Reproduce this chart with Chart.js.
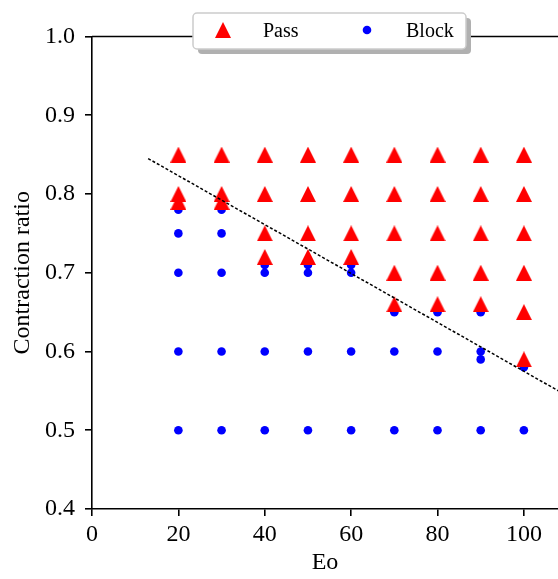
<!DOCTYPE html>
<html>
<head>
<meta charset="utf-8">
<script src="https://cdn.jsdelivr.net/npm/chart.js@4.4.0/dist/chart.umd.min.js"></script>
<style>
  html, body { margin: 0; padding: 0; background: #fff; }
</style>
</head>
<body>
<canvas id="chart" width="558" height="579"></canvas>
<script>
// data
const passX = [20, 20, 20, 30, 30, 30, 40, 40, 40, 40, 50, 50, 50, 50, 60, 60, 60, 60,
  70, 70, 70, 70, 70, 80, 80, 80, 80, 80, 90, 90, 90, 90, 90, 100, 100, 100, 100, 100, 100];
const passY = [0.85, 0.80, 0.79, 0.85, 0.80, 0.79, 0.85, 0.80, 0.75, 0.72, 0.85, 0.80, 0.75, 0.72,
  0.85, 0.80, 0.75, 0.72, 0.85, 0.80, 0.75, 0.70, 0.66, 0.85, 0.80, 0.75, 0.70, 0.66,
  0.85, 0.80, 0.75, 0.70, 0.66, 0.85, 0.80, 0.75, 0.70, 0.65, 0.59];

const blockX = [20, 20, 20, 20, 20, 30, 30, 30, 30, 30, 40, 40, 40, 40, 50, 50, 50, 50,
  60, 60, 60, 60, 70, 70, 70, 80, 80, 80, 90, 90, 90, 90, 100, 100];
const blockY = [0.78, 0.75, 0.70, 0.60, 0.50, 0.78, 0.75, 0.70, 0.60, 0.50, 0.71, 0.70, 0.60, 0.50,
  0.71, 0.70, 0.60, 0.50, 0.71, 0.70, 0.60, 0.50, 0.65, 0.60, 0.50, 0.65, 0.60, 0.50,
  0.65, 0.60, 0.59, 0.50, 0.58, 0.50];

const boundaryX = [13, 108];
const boundaryY = [0.845, 0.550];

const xTicks = [0, 20, 40, 60, 80, 100];
const yTicks = [0.4, 0.5, 0.6, 0.7, 0.8, 0.9, 1.0];

const FONT = "'Liberation Serif', 'DejaVu Serif', serif";
const RED = "#ff0000";
const BLUE = "#0000ff";

function toPoints(xs, ys) {
  return xs.map((x, i) => ({ x: x, y: ys[i] }));
}

// matplotlib-like "^" marker, centred on its bounding box
const tri = document.createElement("canvas");
tri.width = 16;
tri.height = 16;
const tctx = tri.getContext("2d");
tctx.fillStyle = RED;
tctx.beginPath();
tctx.moveTo(8, 0);
tctx.lineTo(16, 16);
tctx.lineTo(0, 16);
tctx.closePath();
tctx.fill();

// top spine + shadowed legend box
const frameAndLegend = {
  id: "frameAndLegend",
  afterDraw(chart) {
    const ctx = chart.ctx;
    const area = chart.chartArea;
    ctx.save();
    ctx.strokeStyle = "#000";
    ctx.lineWidth = 1.6;
    ctx.beginPath();
    ctx.moveTo(area.left, area.top);
    ctx.lineTo(area.right, area.top);
    ctx.stroke();

    const bx = 193, by = 13, bw = 273, bh = 36;
    ctx.fillStyle = "#b0b0b0";
    ctx.beginPath();
    ctx.roundRect(bx + 5, by + 5, bw, bh, 4);
    ctx.fill();
    ctx.fillStyle = "#fff";
    ctx.strokeStyle = "#cccccc";
    ctx.lineWidth = 1.5;
    ctx.beginPath();
    ctx.roundRect(bx, by, bw, bh, 4);
    ctx.fill();
    ctx.stroke();

    const sets = chart.data.datasets;
    ctx.drawImage(tri, 223 - 8, 30 - 8);
    ctx.fillStyle = BLUE;
    ctx.beginPath();
    ctx.arc(367, 30, 4.3, 0, Math.PI * 2);
    ctx.fill();

    ctx.fillStyle = "#000";
    ctx.font = "20px " + FONT;
    ctx.textBaseline = "alphabetic";
    ctx.fillText(sets[1].label, 263, 37);
    ctx.fillText(sets[2].label, 406, 37);
    ctx.restore();
  }
};

new Chart(document.getElementById("chart"), {
  type: "scatter",
  data: {
    datasets: [
      {
        type: "line",
        label: "boundary",
        data: toPoints(boundaryX, boundaryY),
        borderColor: "#000",
        borderWidth: 1.5,
        borderDash: [3, 2],
        pointRadius: 0,
        fill: false,
        order: 0
      },
      {
        label: "Pass",
        data: toPoints(passX, passY),
        pointStyle: tri,
        pointRadius: 8,
        order: 1
      },
      {
        label: "Block",
        data: toPoints(blockX, blockY),
        backgroundColor: BLUE,
        borderWidth: 0,
        pointRadius: 4.3,
        order: 2
      }
    ]
  },
  options: {
    responsive: false,
    animation: false,
    layout: { autoPadding: false, padding: { top: 36.5, right: 0, bottom: 0, left: 0 } },
    plugins: {
      legend: { display: false },
      tooltip: { enabled: false }
    },
    scales: {
      x: {
        type: "linear",
        min: 0,
        max: 107.9,
        afterBuildTicks: scale => { scale.ticks = xTicks.map(v => ({ value: v })); },
        afterFit: scale => {
          scale.height = 70;
          scale.paddingLeft = 0;
          scale.paddingRight = 0;
        },
        border: { color: "#000", width: 1.6 },
        grid: { drawOnChartArea: false, drawTicks: true, tickLength: 7, color: "#000", lineWidth: 1.6 },
        ticks: { color: "#000", font: { family: FONT, size: 24 }, padding: 4, maxRotation: 0, autoSkip: false },
        title: { display: true, text: "Eo", color: "#000", font: { family: FONT, size: 24 }, padding: { top: 0, bottom: 2 } }
      },
      y: {
        type: "linear",
        min: 0.4,
        max: 1.0,
        afterBuildTicks: scale => { scale.ticks = yTicks.map(v => ({ value: v })); },
        afterFit: scale => { scale.width = 92; },
        border: { color: "#000", width: 1.6 },
        grid: { drawOnChartArea: false, drawTicks: true, tickLength: 7, color: "#000", lineWidth: 1.6 },
        ticks: {
          color: "#000",
          font: { family: FONT, size: 24 },
          padding: 10,
          autoSkip: false,
          callback: v => Number(v).toFixed(1)
        },
        title: { display: true, text: "Contraction ratio", color: "#000", font: { family: FONT, size: 24 }, padding: { top: 8, bottom: 0 } }
      }
    }
  },
  plugins: [frameAndLegend]
});
</script>
</body>
</html>
